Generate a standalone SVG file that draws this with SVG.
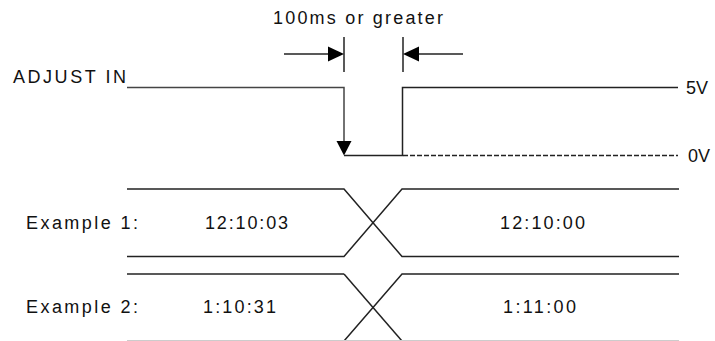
<svg xmlns="http://www.w3.org/2000/svg" width="715" height="341" viewBox="0 0 715 341">
<defs>
<style>
text{font-family:"Liberation Sans",Arial,sans-serif;font-size:18px;fill:#111}
.ln{stroke:#222;stroke-width:1.5;fill:none}
.lg{stroke:#444;stroke-width:1.5;fill:none}
.lf{stroke:#ccc;stroke-width:1;fill:none}
.dash{stroke:#222;stroke-width:1.3;stroke-dasharray:5,2;fill:none}
.ah{fill:#000}
</style>
</defs>
<rect width="715" height="341" fill="#fff"/>
<g id="pulse-width-label">
<text x="273" y="24" textLength="170" lengthAdjust="spacing">100ms or greater</text>
<line class="ln" x1="344" y1="37" x2="344" y2="72"/>
<line class="ln" x1="403" y1="37" x2="403" y2="72"/>
</g>
<g id="connectors">
<line class="ln" x1="284" y1="54" x2="330" y2="54"/>
<polygon class="ah" points="344,54 328,46.5 328,61.5"/>
<line class="ln" x1="463" y1="54" x2="417" y2="54"/>
<polygon class="ah" points="403,54 419,46.5 419,61.5"/>
</g>
<g id="adjust-in">
<text x="13" y="83" textLength="113" lengthAdjust="spacing">ADJUST IN</text>
<polyline class="lg" points="127,87.5 344,87.5 344,143"/>
<polygon class="ah" points="344,155.5 336.5,141 351.5,141"/>
<polyline class="ln" points="344,155.5 402.5,155.5 402.5,87.5 678,87.5"/>
<line class="dash" x1="403" y1="155.5" x2="678" y2="155.5"/>
<text x="686" y="94" textLength="22" lengthAdjust="spacing">5V</text>
<text x="688" y="162" textLength="22" lengthAdjust="spacing">0V</text>
</g>
<g id="example-1">
<text x="26" y="229" textLength="112" lengthAdjust="spacing">Example 1:</text>
<text x="205" y="229" textLength="83" lengthAdjust="spacing">12:10:03</text>
<text x="500" y="229" textLength="85" lengthAdjust="spacing">12:10:00</text>
<polyline class="ln" points="127,189 344,189 402,256.5 679,256.5"/>
<polyline class="ln" points="127,256.5 344,256.5 402,189 679,189"/>
</g>
<g id="example-2">
<text x="26" y="313" textLength="112" lengthAdjust="spacing">Example 2:</text>
<text x="203" y="313" textLength="73" lengthAdjust="spacing">1:10:31</text>
<text x="503" y="313" textLength="73" lengthAdjust="spacing">1:11:00</text>
<polyline class="ln" points="344,274 402,341"/>
<polyline class="ln" points="127,274 344,274"/>
<polyline class="ln" points="344,341 402,274 679,274"/>
<line class="lf" x1="127" y1="340.5" x2="679" y2="340.5"/>
</g>
</svg>
